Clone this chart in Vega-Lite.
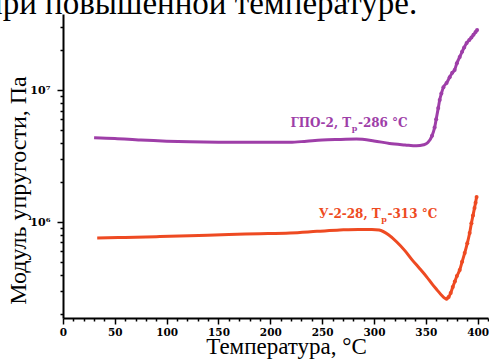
{
  "$schema": "https://vega.github.io/schema/vega-lite/v6.json",
  "autosize": "none",
  "padding": {"left": 63, "top": 14, "right": 1, "bottom": 41},
  "width": 425,
  "height": 304,
  "background": "white",
  "config": {"view": {"stroke": null}, "font": "Liberation Serif"},
  "title": {"text": "при повышенной температуре.", "anchor": "start", "frame": "group", "baseline": "alphabetic", "offset": 2, "dx": -78, "dy": 35, "fontSize": 33, "font": "Liberation Serif", "fontWeight": "normal", "color": "black"},
  "datasets": {
    "curves": [
      {"s": "ГПО-2", "T": 30, "E": 4360000},
      {"s": "ГПО-2", "T": 50, "E": 4300000},
      {"s": "ГПО-2", "T": 75, "E": 4180000},
      {"s": "ГПО-2", "T": 100, "E": 4100000},
      {"s": "ГПО-2", "T": 122, "E": 4060000},
      {"s": "ГПО-2", "T": 150, "E": 4030000},
      {"s": "ГПО-2", "T": 180, "E": 4020000},
      {"s": "ГПО-2", "T": 219, "E": 4020000},
      {"s": "ГПО-2", "T": 235, "E": 4100000},
      {"s": "ГПО-2", "T": 250, "E": 4180000},
      {"s": "ГПО-2", "T": 265, "E": 4220000},
      {"s": "ГПО-2", "T": 283, "E": 4250000},
      {"s": "ГПО-2", "T": 300, "E": 4120000},
      {"s": "ГПО-2", "T": 315, "E": 3940000},
      {"s": "ГПО-2", "T": 330, "E": 3840000},
      {"s": "ГПО-2", "T": 341, "E": 3780000},
      {"s": "ГПО-2", "T": 348, "E": 3850000},
      {"s": "ГПО-2", "T": 352, "E": 4000000},
      {"s": "ГПО-2", "T": 356, "E": 4500000},
      {"s": "ГПО-2", "T": 358.5, "E": 5200000},
      {"s": "ГПО-2", "T": 360, "E": 6000000},
      {"s": "ГПО-2", "T": 362, "E": 7300000},
      {"s": "ГПО-2", "T": 363.4, "E": 8400000},
      {"s": "ГПО-2", "T": 365, "E": 9400000},
      {"s": "ГПО-2", "T": 367, "E": 10500000},
      {"s": "ГПО-2", "T": 370, "E": 11300000},
      {"s": "ГПО-2", "T": 373, "E": 12500000},
      {"s": "ГПО-2", "T": 375.5, "E": 13500000},
      {"s": "ГПО-2", "T": 377.8, "E": 14200000},
      {"s": "ГПО-2", "T": 380, "E": 16000000},
      {"s": "ГПО-2", "T": 382.7, "E": 17800000},
      {"s": "ГПО-2", "T": 385, "E": 19500000},
      {"s": "ГПО-2", "T": 387, "E": 21000000},
      {"s": "ГПО-2", "T": 389.4, "E": 22700000},
      {"s": "ГПО-2", "T": 392, "E": 24000000},
      {"s": "ГПО-2", "T": 394, "E": 25000000},
      {"s": "ГПО-2", "T": 396, "E": 26200000},
      {"s": "ГПО-2", "T": 398, "E": 27500000},
      {"s": "ГПО-2", "T": 399.5, "E": 28500000},
      {"s": "У-2-28", "T": 33, "E": 757000},
      {"s": "У-2-28", "T": 60, "E": 765000},
      {"s": "У-2-28", "T": 90, "E": 775000},
      {"s": "У-2-28", "T": 122, "E": 787000},
      {"s": "У-2-28", "T": 160, "E": 805000},
      {"s": "У-2-28", "T": 190, "E": 815000},
      {"s": "У-2-28", "T": 219, "E": 827000},
      {"s": "У-2-28", "T": 245, "E": 850000},
      {"s": "У-2-28", "T": 267, "E": 870000},
      {"s": "У-2-28", "T": 285, "E": 880000},
      {"s": "У-2-28", "T": 298, "E": 880000},
      {"s": "У-2-28", "T": 305, "E": 870000},
      {"s": "У-2-28", "T": 314, "E": 800000},
      {"s": "У-2-28", "T": 322, "E": 706000},
      {"s": "У-2-28", "T": 330, "E": 605000},
      {"s": "У-2-28", "T": 337, "E": 515000},
      {"s": "У-2-28", "T": 344, "E": 445000},
      {"s": "У-2-28", "T": 351, "E": 383000},
      {"s": "У-2-28", "T": 356, "E": 340000},
      {"s": "У-2-28", "T": 361, "E": 305000},
      {"s": "У-2-28", "T": 365, "E": 280000},
      {"s": "У-2-28", "T": 368, "E": 266000},
      {"s": "У-2-28", "T": 370, "E": 262000},
      {"s": "У-2-28", "T": 372, "E": 270000},
      {"s": "У-2-28", "T": 374, "E": 290000},
      {"s": "У-2-28", "T": 376, "E": 322000},
      {"s": "У-2-28", "T": 378, "E": 355000},
      {"s": "У-2-28", "T": 380, "E": 390000},
      {"s": "У-2-28", "T": 382.7, "E": 433000},
      {"s": "У-2-28", "T": 385, "E": 500000},
      {"s": "У-2-28", "T": 387.5, "E": 582000},
      {"s": "У-2-28", "T": 390, "E": 690000},
      {"s": "У-2-28", "T": 392.3, "E": 826000},
      {"s": "У-2-28", "T": 394, "E": 980000},
      {"s": "У-2-28", "T": 395.5, "E": 1120000},
      {"s": "У-2-28", "T": 397, "E": 1280000},
      {"s": "У-2-28", "T": 398, "E": 1400000},
      {"s": "У-2-28", "T": 399, "E": 1550000}
    ],
    "labels": [
      {"s": "ГПО-2", "part": "main", "T": 278, "E": 5250000, "text": "ГПО-2, T"},
      {"s": "ГПО-2", "part": "sub", "T": 278.5, "E": 5250000, "text": "р"},
      {"s": "ГПО-2", "part": "rest", "T": 284.5, "E": 5250000, "text": "-286 °C"},
      {"s": "У-2-28", "part": "main", "T": 306.5, "E": 1070000, "text": "У-2-28, T"},
      {"s": "У-2-28", "part": "sub", "T": 307, "E": 1070000, "text": "р"},
      {"s": "У-2-28", "part": "rest", "T": 313, "E": 1070000, "text": "-313 °C"}
    ]
  },
  "encoding": {
    "x": {"field": "T", "type": "quantitative",
      "scale": {"domain": [0, 410], "nice": false, "zero": false},
      "axis": {
        "values": [0,10,20,30,40,50,60,70,80,90,100,110,120,130,140,150,160,170,180,190,200,210,220,230,240,250,260,270,280,290,300,310,320,330,340,350,360,370,380,390,400,410],
        "labelExpr": "datum.value % 50 == 0 ? datum.label : ''",
        "labelOverlap": false,
        "labelBound": false,
        "labelFlush": false,
        "tickSize": {"condition": {"test": "datum.value % 50 == 0", "value": 6}, "value": 3},
        "tickColor": "black", "tickWidth": 1.5,
        "domainColor": "black", "domainWidth": 2,
        "grid": false,
        "labelFont": "DejaVu Serif", "labelFontWeight": 700, "labelFontSize": 10.5, "labelColor": "black", "labelPadding": 3,
        "title": "Температура, °C",
        "titleFont": "Liberation Serif", "titleFontWeight": "normal", "titleFontSize": 23, "titleColor": "black",
        "titleX": 223, "titleY": 35, "titleBaseline": "alphabetic", "titleAlign": "center"
      }
    },
    "y": {"field": "E", "type": "quantitative",
      "scale": {"type": "log", "domain": [187500, 37700000], "nice": false},
      "axis": {
        "values": [200000,300000,400000,500000,600000,700000,800000,900000,1000000,2000000,3000000,4000000,5000000,6000000,7000000,8000000,9000000,10000000,20000000,30000000],
        "labelExpr": "datum.value == 1000000 ? '10⁶' : (datum.value == 10000000 ? '10⁷' : '')",
        "labelOverlap": false,
        "labelBound": false,
        "labelFlush": false,
        "tickSize": {"condition": {"test": "datum.value == 1000000 || datum.value == 10000000", "value": 6}, "value": 3},
        "tickColor": "black", "tickWidth": 1.5,
        "domainColor": "black", "domainWidth": 2,
        "grid": false,
        "labelFont": "DejaVu Serif", "labelFontWeight": 700, "labelFontSize": 11, "labelColor": "black", "labelPadding": 7,
        "title": "Модуль упругости, Па",
        "titleFont": "Liberation Serif", "titleFontWeight": "normal", "titleFontSize": 24, "titleColor": "black",
        "titleX": -45, "titleY": 176, "titleBaseline": "middle", "titleAlign": "center", "titleAngle": -90
      }
    },
    "color": {"field": "s", "type": "nominal",
      "scale": {"domain": ["ГПО-2", "У-2-28"], "range": ["#9e3ea8", "#ee4a22"]},
      "legend": null}
  },
  "layer": [
    {
      "data": {"name": "curves"},
      "mark": {"type": "line", "strokeWidth": 3, "interpolate": "monotone"}
    },
    {
      "data": {"name": "curves"},
      "transform": [{"filter": "(datum.s == 'ГПО-2' && datum.T >= 356) || (datum.s == 'У-2-28' && datum.T >= 370)"}],
      "mark": {"type": "circle", "size": 16, "opacity": 1}
    },
    {
      "data": {"name": "labels"},
      "transform": [{"filter": "datum.part == 'main'"}],
      "mark": {"type": "text", "align": "right", "baseline": "alphabetic", "font": "DejaVu Serif", "fontWeight": 700, "fontSize": 12},
      "encoding": {"text": {"field": "text"}}
    },
    {
      "data": {"name": "labels"},
      "transform": [{"filter": "datum.part == 'sub'"}],
      "mark": {"type": "text", "align": "left", "baseline": "alphabetic", "dy": 4, "font": "DejaVu Serif", "fontWeight": 700, "fontSize": 8},
      "encoding": {"text": {"field": "text"}}
    },
    {
      "data": {"name": "labels"},
      "transform": [{"filter": "datum.part == 'rest'"}],
      "mark": {"type": "text", "align": "left", "baseline": "alphabetic", "font": "DejaVu Serif", "fontWeight": 700, "fontSize": 12},
      "encoding": {"text": {"field": "text"}}
    }
  ]
}
